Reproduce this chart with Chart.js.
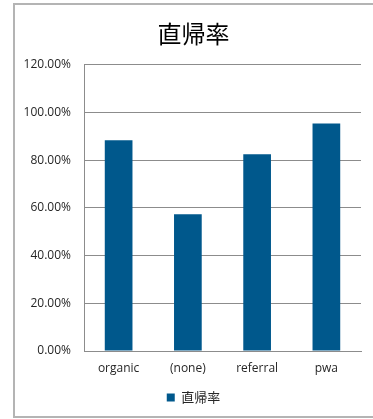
<!DOCTYPE html>
<html>
<head>
<meta charset="utf-8">
<script src="https://cdn.jsdelivr.net/npm/chart.js@4/dist/chart.umd.min.js"></script>
<style>
  html, body { margin: 0; padding: 0; background: #ffffff; }
  #wrap { width: 373px; height: 419px; position: relative; }
</style>
</head>
<body>
<div id="wrap"><canvas id="c" width="373" height="419"></canvas></div>
<script>
// Bounce rate per traffic channel
const chartTitle = '直帰率';
const seriesName = '直帰率';
const categories = ['organic', '(none)', 'referral', 'pwa'];
const bounceRate = [88.4, 57.3, 82.5, 95.4];
const yTickMax = 120;
const yTickStep = 20;

const textColor = '#262626';
const gridColor = '#8c8c8c';
const barColor = '#00588c';
const tickFont = { family: '"Open Sans", sans-serif', size: 12 };

// Outer frame of the chart box
const framePlugin = {
  id: 'frame',
  beforeDraw(chart) {
    const ctx = chart.ctx;
    ctx.save();
    ctx.fillStyle = '#ffffff';
    ctx.fillRect(0, 0, chart.width, chart.height);
    ctx.strokeStyle = '#b4b4b4';
    ctx.lineWidth = 2;
    ctx.strokeRect(14, 4, chart.width + 10, 413);
    ctx.restore();
  }
};

new Chart(document.getElementById('c'), {
  type: 'bar',
  data: {
    labels: categories,
    datasets: [{
      label: seriesName,
      data: bounceRate,
      backgroundColor: barColor,
      borderWidth: 0,
      categoryPercentage: 0.8,
      barPercentage: 0.5
    }]
  },
  plugins: [framePlugin],
  options: {
    responsive: false,
    animation: false,
    devicePixelRatio: 1,
    layout: { padding: { left: 14, right: 0, top: 0, bottom: 5 } },
    plugins: {
      title: {
        display: true,
        text: chartTitle,
        color: '#000000',
        font: { family: '"Noto Sans CJK JP", sans-serif', size: 24, weight: 'normal', lineHeight: 1.2 },
        padding: { top: 19, bottom: 17 }
      },
      legend: {
        display: true,
        position: 'bottom',
        labels: {
          color: textColor,
          font: { family: '"Noto Sans CJK JP", sans-serif', size: 13 },
          boxWidth: 8,
          boxHeight: 8,
          padding: 5
        }
      },
      tooltip: { enabled: false }
    },
    scales: {
      x: {
        grid: { display: false, drawTicks: false },
        border: { display: true, color: gridColor, width: 1 },
        ticks: {
          color: textColor,
          font: tickFont,
          padding: 10,
          maxRotation: 0
        },
        afterFit(scale) { scale.height = 35; }
      },
      y: {
        min: 0,
        max: yTickMax,
        grid: { color: gridColor, lineWidth: 1, drawTicks: false },
        border: { display: true, color: gridColor, width: 1 },
        ticks: {
          stepSize: yTickStep,
          color: textColor,
          font: tickFont,
          padding: 13,
          callback: (v) => v.toFixed(2) + '%'
        },
        afterFit(scale) { scale.width = 70; }
      },
      yRight: {
        position: 'right',
        display: true,
        grid: { display: false, drawTicks: false },
        border: { display: false },
        ticks: { display: false },
        afterFit(scale) { scale.width = 12; }
      }
    }
  }
});
</script>
</body>
</html>
